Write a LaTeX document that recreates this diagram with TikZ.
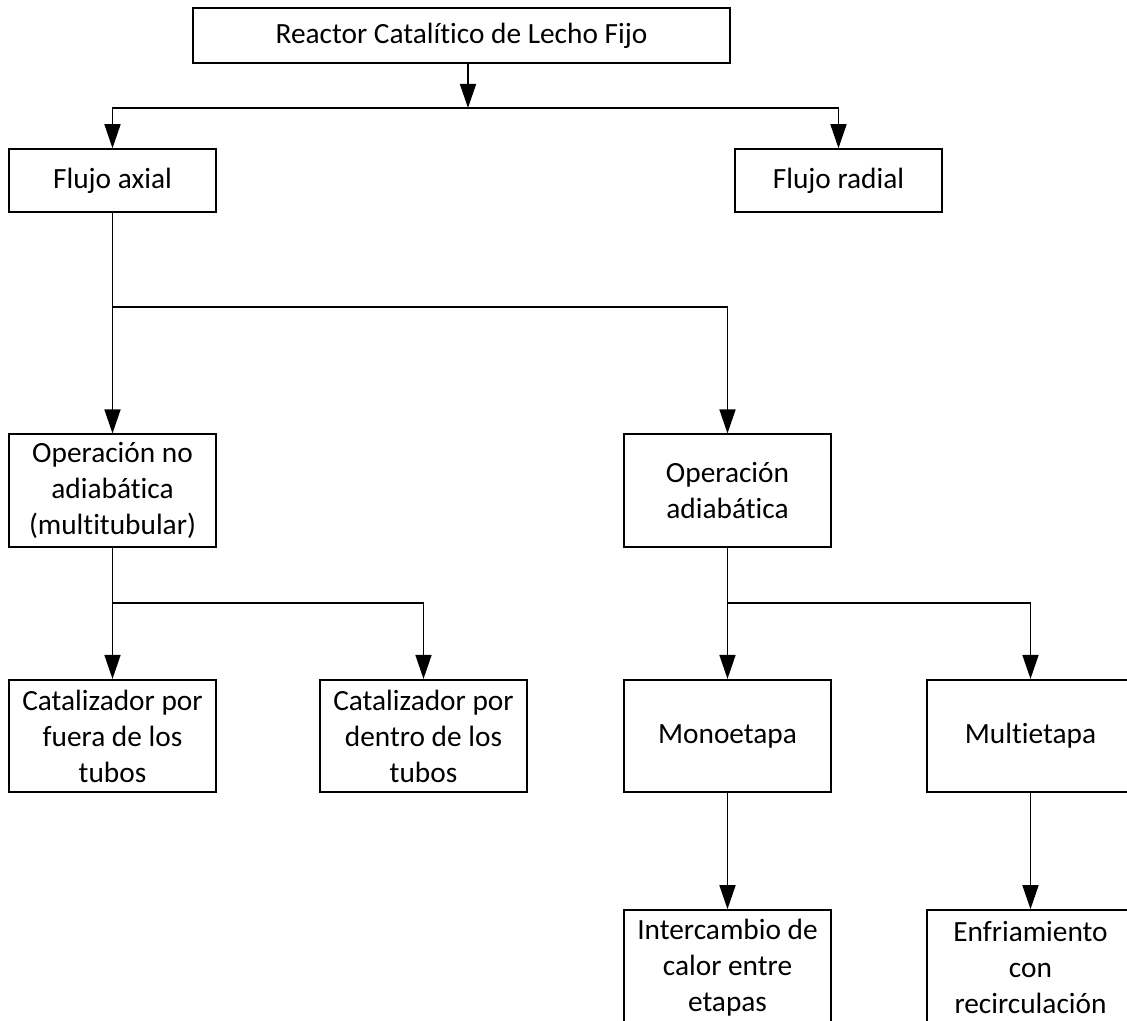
\documentclass[tikz,border=0pt]{standalone}
\usepackage{fontspec}
\setmainfont{Carlito}[Ligatures={NoCommon,NoContextual,NoRequired}, RawFeature={-liga;-clig;-dlig;-calt}]
\usetikzlibrary{arrows.meta}

\begin{document}
\begin{tikzpicture}[
  x=0.375pt, y=-0.375pt,
  box/.style={rectangle, draw, line width=0.6pt, inner sep=0pt,
              minimum width=77.6pt, align=center,
              font=\fontsize{11}{13.5}\selectfont},
  onebox/.style={box, minimum height=23.6pt},
  tallbox/.style={box, minimum height=42.2pt},
  arrow/.style={-{Triangle[length=9pt,width=6pt]}, line width=0.6pt}
]
  \useasboundingbox (0,0) rectangle (1127,1021);
  \clip (0,0) rectangle (1127,1021);

  \node[box, minimum width=201.4pt, minimum height=20.6pt] (reactor) at (461.5,35.5) {Reactor Catalítico de Lecho Fijo};

  \node[onebox] (axial)  at (112.5,180.5) {Flujo axial};
  \node[onebox] (radial) at (838.5,180.5) {Flujo radial};

  \node[tallbox] (noadiab) at (112.5,490.5) {Operación no\\adiabática\\(multitubular)};
  \node[tallbox] (adiab)   at (727.5,490.5) {Operación\\adiabática};

  \node[tallbox] (fuera)  at (112.5,736) {Catalizador por\\fuera de los\\tubos};
  \node[tallbox] (dentro) at (423.5,736) {Catalizador por\\dentro de los\\tubos};
  \node[tallbox] (mono)   at (727.5,736) {Monoetapa};
  \node[tallbox] (multi)  at (1030.5,736) {Multietapa};

  \node[box, minimum height=43.5pt] (intercambio) at (727.5,968)  {Intercambio de\\calor entre\\etapas};
  \node[box, minimum height=43.5pt] (enfriamiento) at (1030.5,968) {Enfriamiento\\con\\recirculación};

  \coordinate (j1) at (468,108);
  \coordinate (j2) at (112.5,307);
  \coordinate (j3) at (112.5,603);
  \coordinate (j4) at (727.5,603);

  \draw[arrow] (j1 |- reactor.south) -- (j1);
  \draw[arrow] (j1) -| (axial.north);
  \draw[arrow] (j1) -| (radial.north);

  \draw[arrow] (axial) -- (noadiab);
  \draw[arrow] (j2) -| (adiab.north);

  \draw[arrow] (noadiab) -- (fuera);
  \draw[arrow] (j3) -| (dentro.north);

  \draw[arrow] (adiab) -- (mono);
  \draw[arrow] (j4) -| (multi.north);

  \draw[arrow] (mono) -- (intercambio);
  \draw[arrow] (multi) -- (enfriamiento);

\end{tikzpicture}
\end{document}
